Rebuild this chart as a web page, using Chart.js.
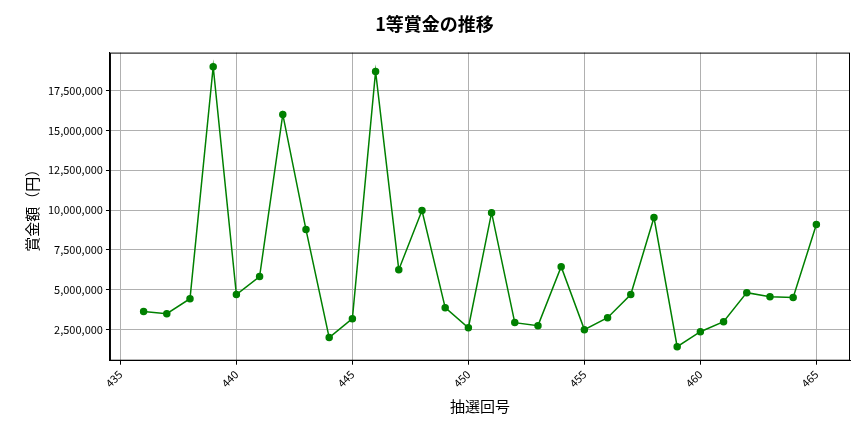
<!DOCTYPE html>
<html><head><meta charset="utf-8">
<script src="https://cdn.jsdelivr.net/npm/chart.js@4"></script>
<style>body{margin:0;background:#fff}#w{width:864px;height:432px}</style>
</head><body><div id="w"><canvas id="c"></canvas></div>
<script>
const draws=[436,437,438,439,440,441,442,443,444,445,446,447,448,449,450,451,452,453,454,455,456,457,458,459,460,461,462,463,464,465];
const prizes=[3630000,3500000,4440000,19000000,4700000,5830000,16000000,8780000,2000000,3190000,18700000,6260000,9970000,3880000,2620000,9840000,2940000,2750000,6450000,2500000,3250000,4700000,9530000,1430000,2370000,3000000,4820000,4570000,4510000,9090000];
const F='"Noto Sans CJK JP","Noto Sans",sans-serif';
const box={id:'box',afterDraw(c){const a=c.chartArea,x=c.ctx;x.save();x.strokeStyle='#000';x.lineWidth=1;x.strokeRect(a.left+0.5,a.top+0.5,a.right-a.left-1,a.bottom-a.top-1);x.restore();}};
new Chart(document.getElementById('c'),{type:'line',plugins:[box],
data:{datasets:[{data:draws.map((x,i)=>({x,y:prizes[i]})),borderColor:'#008000',backgroundColor:'#008000',borderWidth:1.5,pointRadius:3,pointHoverRadius:3,tension:0}]},
options:{responsive:true,maintainAspectRatio:false,animation:false,
layout:{padding:{left:19,right:14,top:9,bottom:13}},
plugins:{legend:{display:false},tooltip:{enabled:false},
title:{display:true,text:'1等賞金の推移',font:{family:F,size:18,weight:'bold'},color:'#000',padding:{top:4,bottom:18}}},
scales:{
x:{type:'linear',min:434.55,max:466.45,afterBuildTicks:a=>{a.ticks=[435,440,445,450,455,460,465].map(v=>({value:v}));},
ticks:{maxRotation:45,minRotation:45,color:'#000',font:{family:F,size:11}},
grid:{color:'#b0b0b0',drawTicks:true,tickLength:4,tickColor:'#000'},border:{color:'#000'},
title:{display:true,text:'抽選回号',font:{family:F,size:15},color:'#000'}},
y:{min:550000,max:19880000,afterBuildTicks:a=>{a.ticks=[2500000,5000000,7500000,10000000,12500000,15000000,17500000].map(v=>({value:v}));},
ticks:{color:'#000',font:{family:F,size:11},callback:v=>v.toLocaleString('en-US')},
grid:{color:'#b0b0b0',tickLength:4,tickColor:'#000'},border:{color:'#000'},
title:{display:true,text:'賞金額（円）',font:{family:F,size:15},color:'#000'}}
}}});
</script></body></html>
